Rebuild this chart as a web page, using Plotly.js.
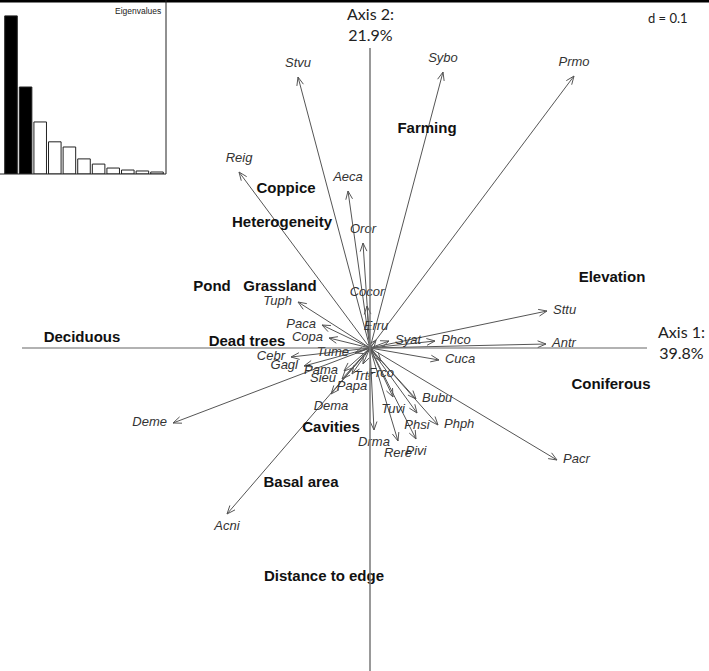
<!DOCTYPE html>
<html>
<head>
<meta charset="utf-8">
<script src="https://cdn.plot.ly/plotly-3.0.1.min.js"></script>
<style>html,body{margin:0;padding:0;background:#fff}#chart{width:709px;height:671px}</style>
</head>
<body>
<div id="chart"></div>
<script>
// ---------------- DATA ----------------
const speciesNames = ["Stvu","Sybo","Prmo","Reig","Aeca","Oror","Cocor","Tuph","Paca","Copa","Erru","Syat","Phco","Sttu","Antr","Cuca","Tume","Cebr","Gagl","Pama","Sieu","Papa","Trtr","Frco","Dema","Deme","Acni","Tuvi","Bubu","Phsi","Phph","Drma","Rere","Pivi","Pacr"];
const speciesAxis1 = [-0.288,0.292,0.816,-0.524,-0.088,-0.028,-0.012,-0.288,-0.192,-0.164,0.024,0.076,0.260,0.708,0.704,0.276,-0.060,-0.316,-0.264,-0.104,-0.112,-0.072,-0.028,0.044,-0.156,-0.788,-0.572,0.092,0.184,0.188,0.272,0.016,0.112,0.184,0.748];
const speciesAxis2 = [1.084,1.104,1.088,0.704,0.628,0.420,0.168,0.184,0.092,0.040,0.032,0.028,0.028,0.148,0.016,-0.048,-0.020,-0.036,-0.072,-0.092,-0.124,-0.104,-0.064,-0.052,-0.184,-0.300,-0.664,-0.196,-0.204,-0.260,-0.308,-0.328,-0.372,-0.364,-0.448];

const envNames = ["Farming","Coppice","Heterogeneity","Pond","Grassland","Elevation","Deciduous","Dead trees","Coniferous","Cavities","Basal area","Distance to edge"];
const envAxis1 = [0.228,-0.336,-0.352,-0.632,-0.360,0.968,-1.152,-0.492,0.964,-0.156,-0.276,-0.184];
const envAxis2 = [0.876,0.636,0.500,0.244,0.244,0.280,0.040,0.024,-0.148,-0.320,-0.540,-0.916];

const eigenRank = [1,2,3,4,5,6,7,8,9,10,11];
const eigenValues = [39.8,21.9,13.1,8.1,6.8,3.8,2.5,1.5,1.0,0.76,0.5];
const keptAxes = 2;
const axis1Label = "Axis 1:<br>39.8%";
const axis2Label = "Axis 2:<br>21.9%";
const gridLabel = "d = 0.1";

// ---------------- LAYOUT HELPERS ----------------
const W = 709, H = 671;
const PXU = 250;            // pixels per unit (same on both axes)
const OX = 370, OY = 348;   // origin in pixels
const xr = [-OX / PXU, (W - OX) / PXU];
const yr = [-(H - OY) / PXU, OY / PXU];

const SP_FONT = "Liberation Sans, Arial, sans-serif";
const SP_SIZE = 13;
const ctx = document.createElement("canvas").getContext("2d");
ctx.font = "italic " + SP_SIZE + "px 'Liberation Sans'";
function tw(s){ return ctx.measureText(s).width; }

// arrows (shafts + open heads) built from species coordinates
const ax = [], ay = [];
const HL = 9 / PXU, ANG = 22 * Math.PI / 180;
const lx = [], ly = [];
for (let i = 0; i < speciesNames.length; i++) {
  const x = speciesAxis1[i], y = speciesAxis2[i];
  ax.push(0, x, null); ay.push(0, y, null);
  const L = Math.hypot(x, y), ux = x / L, uy = y / L;
  for (const s of [1, -1]) {
    const c = Math.cos(s * ANG), sn = Math.sin(s * ANG);
    const rx = ux * c - uy * sn, ry = ux * sn + uy * c;
    ax.push(x - rx * HL, x, null); ay.push(y - ry * HL, y, null);
  }
  // label placement beyond the tip (ade4-like, quadrant based)
  const w = tw(speciesNames[i]);
  if (Math.abs(y) > 1.15 * Math.abs(x)) {
    lx.push(x); ly.push(y + Math.sign(y) * 13 / PXU);
  } else {
    lx.push(x + Math.sign(x) * (w / 2 + 6) / PXU); ly.push(y);
  }
}

const traces = [
  { type: "scatter", mode: "lines", x: ax, y: ay, xaxis: "x", yaxis: "y",
    line: { color: "#555", width: 1 }, hoverinfo: "skip", showlegend: false },
  { type: "scatter", mode: "text", x: lx, y: ly, text: speciesNames, xaxis: "x", yaxis: "y",
    textposition: "middle center",
    textfont: { family: SP_FONT, size: SP_SIZE, color: "#333", style: "italic" },
    hoverinfo: "skip", showlegend: false },
  { type: "scatter", mode: "text", x: envAxis1, y: envAxis2, text: envNames, xaxis: "x", yaxis: "y",
    textposition: "middle center",
    textfont: { family: SP_FONT, size: 15, color: "#111", weight: "bold" },
    hoverinfo: "skip", showlegend: false },
  { type: "bar", x: eigenRank, y: eigenValues, xaxis: "x2", yaxis: "y2", width: 0.86,
    marker: { color: eigenRank.map(r => r <= keptAxes ? "#000" : "#fff"), line: { color: "#222", width: 1 } },
    hoverinfo: "skip", showlegend: false }
];

const insetW = 166 / W, insetH = 174 / H;
const layout = {
  width: W, height: H,
  margin: { l: 0, r: 0, t: 0, b: 0 },
  paper_bgcolor: "#fff", plot_bgcolor: "rgba(0,0,0,0)",
  showlegend: false, hovermode: false,
  xaxis: { range: xr, domain: [0, 1], visible: false, fixedrange: true },
  yaxis: { range: yr, domain: [0, 1], visible: false, fixedrange: true },
  xaxis2: { range: [0.247, 11.616], domain: [0, insetW], visible: false, anchor: "y2" },
  yaxis2: { range: [0, 43.8], domain: [1 - insetH, 1], visible: false, anchor: "x2" },
  shapes: [
    { type: "line", xref: "x", yref: "y", x0: (22 - OX) / PXU, x1: (647 - OX) / PXU, y0: 0, y1: 0,
      line: { color: "#666", width: 1.2 } },
    { type: "line", xref: "x", yref: "y", x0: 0, x1: 0, y0: (OY - 48) / PXU, y1: yr[0],
      line: { color: "#777", width: 1.5 } },
    { type: "line", xref: "paper", yref: "paper", x0: 0, x1: 1, y0: 1, y1: 1,
      line: { color: "#000", width: 5 } },
    { type: "line", xref: "paper", yref: "paper", x0: insetW, x1: insetW, y0: 1 - insetH, y1: 1,
      line: { color: "#222", width: 1 } },
    { type: "line", xref: "paper", yref: "paper", x0: 0, x1: insetW, y0: 1 - insetH, y1: 1 - insetH,
      line: { color: "#222", width: 1 } }
  ],
  annotations: [
    { text: "Eigenvalues", xref: "paper", yref: "paper", x: 138 / W, y: 1 - 11 / H,
      showarrow: false, xanchor: "center", yanchor: "middle",
      font: { family: SP_FONT, size: 8.5, color: "#222" } },
    { text: axis1Label, xref: "paper", yref: "paper", x: 681 / W, y: 1 - 342 / H,
      showarrow: false, xanchor: "center", yanchor: "middle",
      font: { family: "Lato, Carlito, sans-serif", size: 16, color: "#222" } },
    { text: axis2Label, xref: "paper", yref: "paper", x: 370 / W, y: 1 - 24 / H,
      showarrow: false, xanchor: "center", yanchor: "middle",
      font: { family: "Lato, Carlito, sans-serif", size: 16, color: "#222" } },
    { text: gridLabel, xref: "paper", yref: "paper", x: 668 / W, y: 1 - 18 / H,
      showarrow: false, xanchor: "center", yanchor: "middle",
      font: { family: "Lato, Carlito, sans-serif", size: 13, color: "#222" } }
  ]
};

Plotly.newPlot("chart", traces, layout, { staticPlot: true, displayModeBar: false });
</script>
</body>
</html>
